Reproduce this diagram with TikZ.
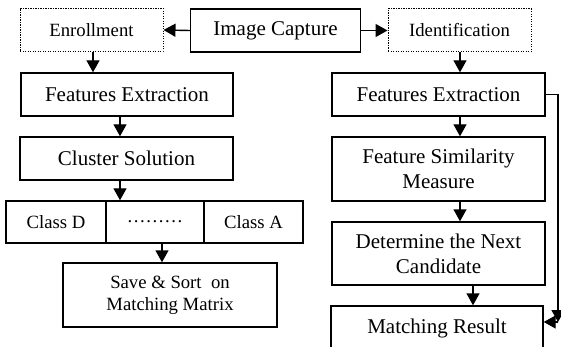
\documentclass[tikz,border=0pt]{standalone}
\usepackage{fontspec}
\setmainfont{Liberation Serif}
\usetikzlibrary{arrows.meta}
\begin{document}
\begin{tikzpicture}[x=1pt,y=1pt,
  box/.style={draw=black, line width=1.4pt, inner sep=0pt, align=center,
    font=\fontsize{21}{25}\selectfont},
  smallbox/.style={box, font=\fontsize{18.7}{22}\selectfont},
  dotbox/.style={smallbox, line width=1pt, dash pattern=on 1.2pt off 1.3pt},
  arr/.style={line width=1.4pt, -{Triangle[width=13pt,length=12pt]}}]
\useasboundingbox (0,0) rectangle (561,-347);
\clip (0,0) rectangle (561,-347);

% top row
\node[dotbox, minimum width=143pt, minimum height=43pt] (enr) at (91.5,-30) {Enrollment};
\node[box, minimum width=170pt, minimum height=43pt] (cap) at (275.5,-30.5) {Image Capture};
\node[dotbox, minimum width=143pt, minimum height=43pt] (idn) at (459.5,-30.5) {Identification};

% enrollment branch
\node[box, minimum width=212pt, minimum height=43pt] (fea) at (127,-94.5) {Features Extraction};
\node[box, minimum width=213pt, minimum height=43pt] (clu) at (126.5,-158.5) {Cluster Solution};
\node[smallbox, minimum width=100pt, minimum height=42pt] (cd) at (56,-222) {Class D};
\node[smallbox, minimum width=98pt, minimum height=42pt] (cdots) at (155,-222) {………};
\node[smallbox, minimum width=99pt, minimum height=42pt] (ca) at (253.5,-222) {Class A};
\node[smallbox, minimum width=214pt, minimum height=64pt] (save) at (170,-295) {Save \& Sort~ on\\Matching Matrix};

% identification branch
\node[box, minimum width=213pt, minimum height=43pt] (feb) at (438.5,-94.5) {Features Extraction};
\node[box, minimum width=213pt, minimum height=64pt] (fsm) at (438.5,-169) {Feature Similarity\\Measure};
\node[box, minimum width=213pt, minimum height=63pt] (det) at (438.5,-253.5) {Determine the Next\\Candidate};
\node[box, minimum width=212pt, minimum height=44pt] (mr) at (437,-328) {Matching Result};

% connectors
\draw[arr] (cap.west) -- (enr.east);
\draw[arr] (cap.east) -- (idn.west);
\draw[arr] (enr.south -| 93,0) -- (fea.north -| 93,0);
\draw[arr] (fea.south -| 120,0) -- (clu.north -| 120,0);
\draw[arr] (clu.south -| 120,0) -- (cdots.north -| 120,0);
\draw[arr] (cdots.south -| 162,0) -- (save.north -| 162,0);
\draw[arr] (idn.south -| 460,0) -- (feb.north -| 460,0);
\draw[arr] (feb.south -| 460,0) -- (fsm.north -| 460,0);
\draw[arr] (fsm.south -| 460,0) -- (det.north -| 460,0);
\draw[arr] (det.south -| 473,0) -- (mr.north -| 473,0);

% feedback line from the extraction step to the result
\coordinate (bend) at (558,-322);
\draw[arr] (feb.east) -| (bend);
\draw[arr] (bend) -- (mr.east |- bend);
\end{tikzpicture}
\end{document}
